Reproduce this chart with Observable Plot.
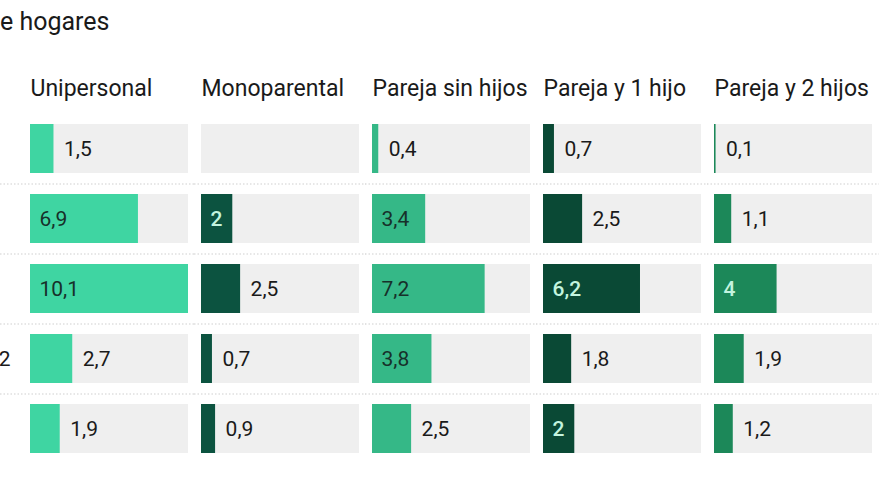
<!DOCTYPE html>
<html>
<head>
<meta charset="utf-8">
<script src="https://cdn.jsdelivr.net/npm/d3@7"></script>
<script src="https://cdn.jsdelivr.net/npm/@observablehq/plot@0.6"></script>
<style>
  html, body { margin: 0; padding: 0; background: #fff; overflow: hidden; }
  body { position: relative; width: 880px; height: 495px; font-family: Roboto, "Noto Sans", sans-serif; }
  #title { position: absolute; left: 0px; top: 9px; font-size: 25px; line-height: 25px; color: #1a1a1a; white-space: nowrap; z-index: 2; }
  #chart { position: absolute; left: 0; top: 0; }
</style>
</head>
<body>
<div id="title">e hogares</div>
<div id="chart"></div>
<script>
// ---- data ----
const columns = ["Unipersonal", "Monoparental", "Pareja sin hijos", "Pareja y 1 hijo", "Pareja y 2 hijos"];
const rows = ["r1", "r2", "r3", "r4", "r5"];
const rowLabels = ["", "", "", "2", ""];
const unipersonal    = [1.5, 6.9, 10.1, 2.7, 1.9];
const monoparental   = [null, 2, 2.5, 0.7, 0.9];
const parejaSinHijos = [0.4, 3.4, 7.2, 3.8, 2.5];
const parejaUnHijo   = [0.7, 2.5, 6.2, 1.8, 2];
const parejaDosHijos = [0.1, 1.1, 4, 1.9, 1.2];
const barColors = ["#3fd5a2", "#0c5340", "#35b887", "#0a4935", "#1c8859"];
const lightText = [false, true, false, true, true];
const xMax = 10.1;

const series = [unipersonal, monoparental, parejaSinHijos, parejaUnHijo, parejaDosHijos];
const fmt = v => String(v).replace(".", ",");
const cells = [];
columns.forEach((c, ci) => rows.forEach((r, ri) => {
  cells.push({col: c, row: r, value: series[ci][ri], light: lightText[ci]});
}));

// label placement: inside when the label fits in the bar
const colWidth = 158, fontPx = 20;
function textWidth(s) { let w = 0; for (const ch of s) w += (ch === "," ? 0.25 : 0.56) * fontPx; return w; }
cells.forEach(d => {
  if (d.value == null) return;
  d.label = fmt(d.value);
  d.inside = d.value / xMax * colWidth > textWidth(d.label) + 18;
});
const valued = cells.filter(d => d.value != null);
const seps = cells.filter(d => d.row !== rows[rows.length - 1]);

const chart = Plot.plot({
  width: 880,
  height: 495,
  marginTop: 113,
  marginBottom: 32,
  marginLeft: 30,
  marginRight: 7,
  style: {fontFamily: "Roboto, 'Noto Sans', sans-serif", fontSize: "21px", color: "#1a1a1a", background: "transparent"},
  fx: {domain: columns, paddingInner: 0.0759, paddingOuter: 0, axis: null, label: null},
  x: {domain: [0, xMax], axis: null},
  y: {domain: rows, paddingInner: 0.3, paddingOuter: 0.15, axis: "left", tickSize: 0, tickPadding: 20,
      tickFormat: r => rowLabels[rows.indexOf(r)], label: null},
  color: {domain: columns, range: barColors},
  marks: [
    Plot.ruleY(seps.filter(d => d.col === columns[0]), {fx: "col", y: "row", dy: 35, stroke: "#cfcfcf", strokeWidth: 1.2, strokeDasharray: "1.5,2", insetLeft: -30, insetRight: -7}),
    Plot.ruleY(seps.filter(d => d.col !== columns[0]), {fx: "col", y: "row", dy: 35, stroke: "#cfcfcf", strokeWidth: 1.2, strokeDasharray: "1.5,2", insetLeft: -7, insetRight: -7}),
    Plot.barX(cells, {fx: "col", y: "row", x1: () => 0, x2: () => xMax, fill: "#efefef"}),
    Plot.barX(valued, {fx: "col", y: "row", x1: () => 0, x2: "value", fill: "col"}),
    Plot.text(valued.filter(d => !d.inside), {fx: "col", y: "row", x: "value", text: "label", dx: 10, textAnchor: "start", fill: "#1a1a1a", fontSize: 21}),
    Plot.text(valued.filter(d => d.inside && !d.light), {fx: "col", y: "row", x: () => 0, text: "label", dx: 9, textAnchor: "start", fill: "#17302a", fontSize: 21}),
    Plot.text(valued.filter(d => d.inside && d.light), {fx: "col", y: "row", x: () => 0, text: "label", dx: 9, textAnchor: "start", fill: "#c3f4df", fontSize: 21, fontWeight: 500}),
    Plot.text(columns, {fx: d => d, text: d => d, frameAnchor: "top-left", lineAnchor: "bottom", dy: -18, fill: "#1a1a1a", fontSize: 23})
  ]
});
document.getElementById("chart").appendChild(chart);
</script>
</body>
</html>
